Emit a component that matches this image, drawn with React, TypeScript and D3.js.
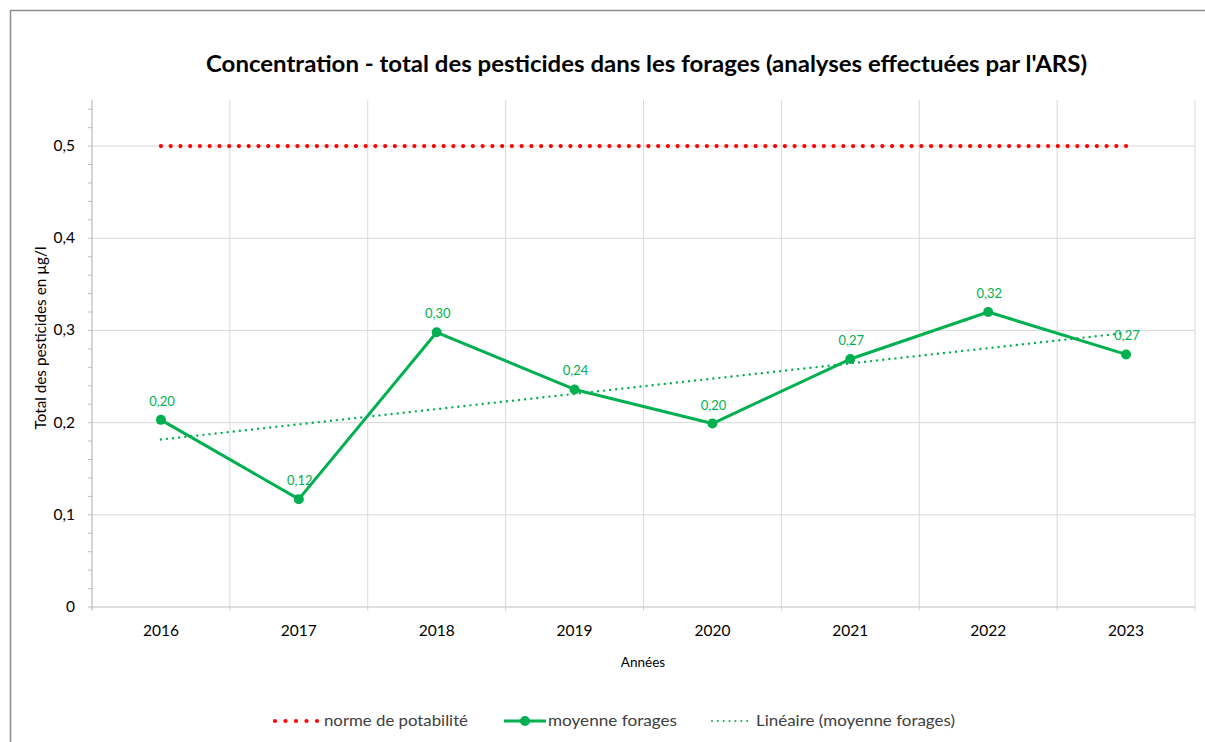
import React, { useEffect, useRef } from 'react';
import * as d3 from 'd3';

const years = ['2016', '2017', '2018', '2019', '2020', '2021', '2022', '2023'];
const moyenneForages = [0.203, 0.117, 0.298, 0.236, 0.199, 0.269, 0.32, 0.274];
const normePotabilite = [0.5, 0.5, 0.5, 0.5, 0.5, 0.5, 0.5, 0.5];
const yTicks = [0, 0.1, 0.2, 0.3, 0.4, 0.5];

const GREEN = '#00B050';
const FONT = 'Lato, "Open Sans", sans-serif';

const App = () => {
  const svgRef = useRef<SVGSVGElement>(null);
  const width = 1205;
  const height = 742;

  useEffect(() => {
    const svg = d3.select(svgRef.current);
    svg.selectAll('*').remove();

    const left = 92, right = 1195, top = 100, bottom = 607;

    const x = d3.scaleBand().domain(years).range([left, right]);
    const y = d3.scaleLinear().domain([0, 0.55]).range([bottom, top]);
    const cx = (d: string) => (x(d) as number) + x.bandwidth() / 2;

    // cadre
    svg.append('rect')
      .attr('x', 10.5).attr('y', 10.5)
      .attr('width', 1300).attr('height', 900)
      .attr('fill', 'white').attr('stroke', '#8c8c8c').attr('stroke-width', 1.5);

    // titre
    svg.append('text')
      .attr('x', 646.5).attr('y', 72)
      .attr('text-anchor', 'middle')
      .attr('font-family', FONT).attr('font-weight', 'bold').attr('font-size', 22.5)
      .attr('textLength', 881).attr('lengthAdjust', 'spacingAndGlyphs')
      .attr('fill', '#000')
      .text("Concentration - total des pesticides dans les forages (analyses effectuées par l'ARS)");

    // grille horizontale
    svg.append('g').selectAll('line').data(yTicks.filter(d => d > 0)).enter().append('line')
      .attr('x1', left).attr('x2', right)
      .attr('y1', d => y(d)).attr('y2', d => y(d))
      .attr('stroke', '#d9d9d9').attr('stroke-width', 1);

    // grille verticale
    const bounds = years.map(d => x(d) as number).concat([right]);
    svg.append('g').selectAll('line').data(bounds).enter().append('line')
      .attr('x1', d => d).attr('x2', d => d)
      .attr('y1', top).attr('y2', bottom + 4)
      .attr('stroke', '#d9d9d9').attr('stroke-width', 1);

    // axe Y
    svg.append('line')
      .attr('x1', left).attr('x2', left).attr('y1', top).attr('y2', bottom + 3)
      .attr('stroke', '#bfbfbf').attr('stroke-width', 1);
    svg.append('g').selectAll('line').data(d3.range(0, 0.5501, 0.02)).enter().append('line')
      .attr('x1', left - 4).attr('x2', left)
      .attr('y1', d => y(d)).attr('y2', d => y(d))
      .attr('stroke', '#bfbfbf');
    svg.append('g').selectAll('text').data(yTicks).enter().append('text')
      .attr('x', left - 17).attr('y', d => y(d) + 5)
      .attr('text-anchor', 'end')
      .attr('font-family', FONT).attr('font-size', 15.5).attr('fill', '#000')
      .text(d => d === 0 ? '0' : d3.format('.1f')(d).replace('.', ','));

    // axe X
    svg.append('line')
      .attr('x1', left).attr('x2', right).attr('y1', bottom).attr('y2', bottom)
      .attr('stroke', '#bfbfbf');
    svg.append('g').selectAll('text').data(years).enter().append('text')
      .attr('x', d => cx(d)).attr('y', 636)
      .attr('text-anchor', 'middle')
      .attr('font-family', FONT).attr('font-size', 15.5).attr('fill', '#000')
      .text(d => d);

    // titres des axes
    svg.append('text')
      .attr('x', 643).attr('y', 667)
      .attr('text-anchor', 'middle')
      .attr('font-family', FONT).attr('font-size', 13.5).attr('fill', '#000')
      .text('Années');
    svg.append('text')
      .attr('transform', 'translate(46,338) rotate(-90)')
      .attr('text-anchor', 'middle')
      .attr('font-family', FONT).attr('font-size', 15.5).attr('fill', '#000')
      .attr('textLength', 183).attr('lengthAdjust', 'spacingAndGlyphs')
      .text('Total des pesticides en µg/l');

    const line = d3.line<number>().x((_, i) => cx(years[i])).y(d => y(d));
    // pas des pointillés ajusté pour finir sur un point
    const dotGap = (len: number, step: number) => `0 ${len / Math.round(len / step)}`;

    // norme
    const spanX = cx(years[years.length - 1]) - cx(years[0]);
    svg.append('path')
      .attr('d', line(normePotabilite))
      .attr('fill', 'none').attr('stroke', '#FF0000').attr('stroke-width', 4.2)
      .attr('stroke-linecap', 'round').attr('stroke-dasharray', dotGap(spanX, 9.76));

    // tendance linéaire (moindres carrés sur la série)
    const xs = years.map((_, i) => i + 1);
    const mx = d3.mean(xs) as number;
    const my = d3.mean(moyenneForages) as number;
    const slope = d3.sum(xs, (xi, i) => (xi - mx) * (moyenneForages[i] - my)) / d3.sum(xs, xi => (xi - mx) ** 2);
    const trend = xs.map(xi => my + slope * (xi - mx));
    const trendLen = Math.hypot(spanX, y(trend[0]) - y(trend[trend.length - 1]));
    svg.append('path')
      .attr('d', line(trend))
      .attr('fill', 'none').attr('stroke', GREEN).attr('stroke-width', 2.4)
      .attr('stroke-linecap', 'round').attr('stroke-dasharray', dotGap(trendLen, 6.1));

    // moyenne forages
    svg.append('path')
      .attr('d', line(moyenneForages))
      .attr('fill', 'none').attr('stroke', GREEN).attr('stroke-width', 3)
      .attr('stroke-linejoin', 'round');
    svg.append('g').selectAll('circle').data(moyenneForages).enter().append('circle')
      .attr('cx', (_, i) => cx(years[i])).attr('cy', d => y(d)).attr('r', 5)
      .attr('fill', GREEN);
    svg.append('g').selectAll('text').data(moyenneForages).enter().append('text')
      .attr('x', (_, i) => cx(years[i]) + 1).attr('y', d => y(d) - 14)
      .attr('text-anchor', 'middle')
      .attr('font-family', FONT).attr('font-size', 13).attr('fill', GREEN)
      .text(d => d3.format('.2f')(d).replace('.', ','));

    // légende
    const ly = 721;
    const lg = svg.append('g').attr('font-family', FONT).attr('font-size', 16).attr('fill', '#404040');
    lg.append('g').selectAll('circle').data(d3.range(5)).enter().append('circle')
      .attr('cx', i => 275 + i * 10.5).attr('cy', ly).attr('r', 2.1)
      .attr('fill', '#FF0000');
    lg.append('text').attr('x', 324).attr('y', ly + 5)
      .attr('textLength', 144).attr('lengthAdjust', 'spacingAndGlyphs')
      .text('norme de potabilité');
    lg.append('line').attr('x1', 504).attr('x2', 546).attr('y1', ly).attr('y2', ly)
      .attr('stroke', GREEN).attr('stroke-width', 3);
    lg.append('circle').attr('cx', 525).attr('cy', ly).attr('r', 5).attr('fill', GREEN);
    lg.append('text').attr('x', 548).attr('y', ly + 5)
      .attr('textLength', 129).attr('lengthAdjust', 'spacingAndGlyphs')
      .text('moyenne forages');
    lg.append('line').attr('x1', 712).attr('x2', 753).attr('y1', ly).attr('y2', ly)
      .attr('stroke', GREEN).attr('stroke-width', 2)
      .attr('stroke-linecap', 'round').attr('stroke-dasharray', dotGap(41, 5.9));
    lg.append('text').attr('x', 756).attr('y', ly + 5)
      .attr('textLength', 199).attr('lengthAdjust', 'spacingAndGlyphs')
      .text('Linéaire (moyenne forages)');
  }, []);

  return (
    <div style={{ position: 'absolute', left: 0, top: 0, width, height, overflow: 'hidden' }}>
      <svg ref={svgRef} width={width} height={height} style={{ display: 'block' }} />
    </div>
  );
};

export default App;
